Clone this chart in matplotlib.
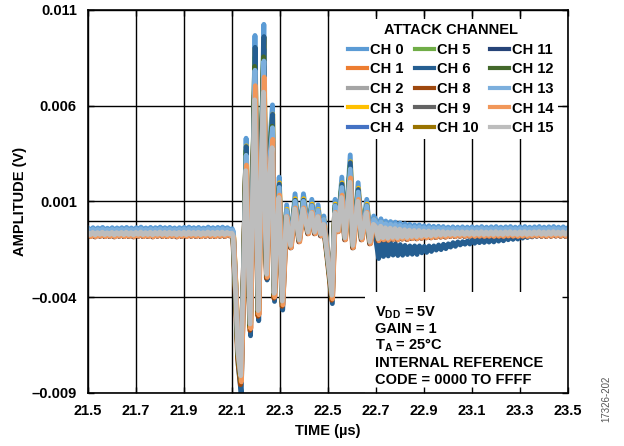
import numpy as np
import matplotlib.pyplot as plt
from matplotlib.patches import Rectangle

plt.rcParams['font.family'] = ['Liberation Sans', 'DejaVu Sans']
plt.rcParams['font.weight'] = 'bold'
plt.rcParams['axes.labelweight'] = 'bold'
plt.rcParams['mathtext.fontset'] = 'custom'
plt.rcParams['mathtext.rm'] = 'Liberation Sans:bold'
plt.rcParams['mathtext.it'] = 'Liberation Sans:bold'
plt.rcParams['mathtext.bf'] = 'Liberation Sans:bold'

# canales (no hay CH 7 en la figura)
channels = ['CH 0', 'CH 1', 'CH 2', 'CH 3', 'CH 4', 'CH 5', 'CH 6', 'CH 8',
            'CH 9', 'CH 10', 'CH 11', 'CH 12', 'CH 13', 'CH 14', 'CH 15']
colors = ['#5B9BD5', '#ED7D31', '#A5A5A5', '#FFC000', '#4472C4', '#70AD47',
          '#255E91', '#9E480E', '#636363', '#997300', '#264478', '#43682B',
          '#7CAFDD', '#F1975A', '#BDBDBD']
# desplazamiento de linea base (mV), ganancia de la rafaga y retardo (us) por canal
ch_offset_mv = [0.22, -0.08, 0.0, 0.05, 0.05, 0.0, -0.05, -0.10,
                0.0, -0.05, -0.10, 0.0, 0.15, -0.10, 0.0]
ch_gain_up = [1.45, 1.10, 1.05, 1.38, 1.30, 1.32, 1.40, 1.05,
              1.10, 1.10, 1.20, 1.25, 1.20, 1.12, 1.00]
ch_gain_down = [1.00, 1.03, 1.00, 1.00, 1.00, 1.02, 1.12, 1.05,
                1.00, 1.03, 1.00, 1.02, 1.00, 1.03, 1.00]
ch_delay_us = [0.001, 0.002, -0.001, 0.002, 0.001, 0.0, 0.0015, -0.0015,
               -0.001, -0.0005, 0.0005, -0.0005, 0.001, 0.0025, -0.0005]
base_level_mv = -0.68

# antes del disparo: 21.50 .. 22.10 us cada 0.01 us
time_pre_us = np.round(np.arange(21.50, 22.101, 0.01), 3)
amp_pre_mv = [-0.64, -0.74, -0.62, -0.75, -0.63, -0.72, -0.61, -0.74, -0.64, -0.73,
              -0.62, -0.75, -0.63, -0.72, -0.62, -0.74, -0.61, -0.73, -0.63, -0.75,
              -0.62, -0.72, -0.60, -0.74, -0.63, -0.73, -0.61, -0.75, -0.62, -0.72,
              -0.60, -0.73, -0.62, -0.74, -0.61, -0.72, -0.63, -0.75, -0.62, -0.73,
              -0.61, -0.74, -0.60, -0.72, -0.62, -0.73, -0.61, -0.74, -0.63, -0.72,
              -0.60, -0.73, -0.62, -0.74, -0.61, -0.72, -0.60, -0.73, -0.62, -0.70,
              -0.66]

# rafaga
time_burst_us = [22.105, 22.115, 22.125, 22.137, 22.148, 22.158, 22.167, 22.176,
                 22.186, 22.195, 22.203, 22.210, 22.221, 22.232, 22.240, 22.245,
                 22.257, 22.268, 22.276, 22.287, 22.296, 22.310, 22.327, 22.345,
                 22.362, 22.380, 22.397, 22.417, 22.432, 22.445, 22.458, 22.470,
                 22.482, 22.496, 22.517, 22.529, 22.542, 22.557, 22.571, 22.592,
                 22.604, 22.625, 22.640, 22.661, 22.675, 22.690]
amp_burst_mv = [-0.80, -3.5, -6.8, -8.1, -3.0, 2.6, -1.5, -5.4,
                1.0, 6.3, 0.5, -4.7, 2.0, 6.7, -0.5, -2.8,
                2.5, 3.8, -3.8, -0.8, 1.2, -4.2, 0.2, -1.3,
                0.6, -1.0, 0.6, -0.6, 0.4, -0.6, 0.2, -0.7,
                -0.2, -1.6, -3.9, 0.4, -0.5, 1.2, -0.9, 2.0,
                -1.3, 1.0, -0.9, 0.4, -1.1, -0.2]

# cola: 22.70 .. 23.50 us cada 0.01 us
time_tail_us = np.round(np.arange(22.70, 23.501, 0.01), 3)
amp_tail_mv = [-0.35, -0.95, -0.30, -0.90, -0.38, -0.92, -0.40, -0.88, -0.42, -0.90,
               -0.45, -0.86, -0.48, -0.88, -0.50, -0.84, -0.52, -0.85, -0.52, -0.82,
               -0.55, -0.80, -0.55, -0.80, -0.57, -0.78, -0.57, -0.76, -0.58, -0.76,
               -0.60, -0.73, -0.59, -0.74, -0.60, -0.72, -0.59, -0.73, -0.60, -0.72,
               -0.59, -0.73, -0.60, -0.72, -0.58, -0.73, -0.60, -0.72, -0.59, -0.73,
               -0.58, -0.72, -0.60, -0.73, -0.59, -0.71, -0.58, -0.72, -0.60, -0.73,
               -0.59, -0.72, -0.58, -0.73, -0.60, -0.72, -0.59, -0.71, -0.58, -0.72,
               -0.60, -0.73, -0.59, -0.72, -0.58, -0.71, -0.60, -0.72, -0.59, -0.72,
               -0.62]
# caida extra del CH 6 en la cola (mV)
ch6_tail_sag_mv = [-0.90, -0.95, -0.90, -0.90, -0.90, -0.85, -0.85, -0.85, -0.85, -0.85,
                   -0.85, -0.88, -0.85, -0.82, -0.85, -0.85, -0.82, -0.85, -0.82, -0.80,
                   -0.80, -0.80, -0.78, -0.75, -0.75, -0.70, -0.70, -0.70, -0.65, -0.65,
                   -0.60, -0.60, -0.55, -0.55, -0.50, -0.50, -0.50, -0.45, -0.45, -0.45,
                   -0.40, -0.40, -0.40, -0.38, -0.38, -0.36, -0.36, -0.35, -0.35, -0.33,
                   -0.30, -0.30, -0.28, -0.27, -0.25, -0.24, -0.22, -0.21, -0.20, -0.18,
                   -0.15, -0.14, -0.12, -0.10, -0.09, -0.08, -0.07, -0.06, -0.05, -0.04,
                   -0.03, -0.02, -0.02, -0.01, -0.01, 0.0, 0.0, 0.0, 0.0, 0.0,
                   0.0]

x_ticks = [21.5, 21.7, 21.9, 22.1, 22.3, 22.5, 22.7, 22.9, 23.1, 23.3, 23.5]
x_labels = ['21.5', '21.7', '21.9', '22.1', '22.3', '22.5', '22.7', '22.9', '23.1', '23.3', '23.5']
y_ticks = [-0.009, -0.004, 0.001, 0.006, 0.011]
y_labels = ['\u20130.009', '\u20130.004', '0.001', '0.006', '0.011']

notas = [r'V$_{\rm DD}$ = 5V', 'GAIN = 1', r'T$_{\rm A}$ = 25°C',
         'INTERNAL REFERENCE', 'CODE = 0000 TO FFFF']

time_us = np.concatenate([time_pre_us, time_burst_us, time_tail_us])
base_mv = np.concatenate([amp_pre_mv, amp_burst_mv, amp_tail_mv])
sag_mv = np.concatenate([np.zeros(len(amp_pre_mv) + len(amp_burst_mv)), ch6_tail_sag_mv])

fig = plt.figure(figsize=(6.24, 4.46), dpi=100)
ax = fig.add_axes([0.141, 0.119, 0.769, 0.859])

for xv in x_ticks:
    ax.axvline(xv, color='black', lw=1.0, zorder=1)
for yv in y_ticks + [0.0]:
    ax.axhline(yv, color='black', lw=1.0, zorder=1)

for i, ch in enumerate(channels):
    dev = base_mv - base_level_mv
    g = np.where(dev > 0, ch_gain_up[i], ch_gain_down[i])
    y = base_level_mv + ch_offset_mv[i] + g * dev
    if ch == 'CH 6':
        y = y + sag_mv
    ax.plot(time_us + ch_delay_us[i], y / 1000.0, color=colors[i], lw=3.5,
            label=ch, solid_joinstyle='round', zorder=2)

ax.set_xlim(21.5, 23.5)
ax.set_ylim(-0.009, 0.011)
ax.set_xticks(x_ticks)
ax.set_xticklabels(x_labels)
ax.set_yticks(y_ticks)
ax.set_yticklabels(y_labels)
ax.tick_params(direction='in', length=4, width=1.0, top=True, right=True,
               labelsize=10.5, pad=8)
ax.set_xlabel('TIME (µs)', fontsize=10.5, labelpad=4)
ax.set_ylabel('AMPLITUDE (V)', fontsize=10.5, labelpad=3)
for s in ax.spines.values():
    s.set_linewidth(1.2)
    s.set_zorder(7)
ax.xaxis.set_zorder(6)
ax.yaxis.set_zorder(6)

leg = ax.legend(ncol=3, title='ATTACK CHANNEL', fontsize=10.5,
                title_fontproperties={'weight': 'bold', 'size': 10.5},
                loc='upper right', bbox_to_anchor=(0.995, 0.995),
                handlelength=1.3, handletextpad=0.2, columnspacing=0.8,
                labelspacing=0.38, borderpad=0.3, fancybox=False,
                facecolor='white', edgecolor='none', framealpha=1.0)
leg.set_zorder(5)
for h in leg.get_lines():
    h.set_linewidth(3.0)

ax.add_patch(Rectangle((0.577, 0.0), 0.423, 0.264, transform=ax.transAxes,
                       facecolor='white', edgecolor='none', zorder=4))
y_base = [0.198, 0.157, 0.112, 0.068, 0.0235]
for txt, yb in zip(notas, y_base):
    ax.text(0.598, yb, txt, transform=ax.transAxes, fontsize=10.5,
            va='baseline', ha='left', zorder=5)

fig.text(0.972, 0.105, '17326-202', rotation=90, fontsize=7, color='#555555',
         fontweight='normal', ha='center', va='center')

fig.savefig('out.png', dpi=100)
